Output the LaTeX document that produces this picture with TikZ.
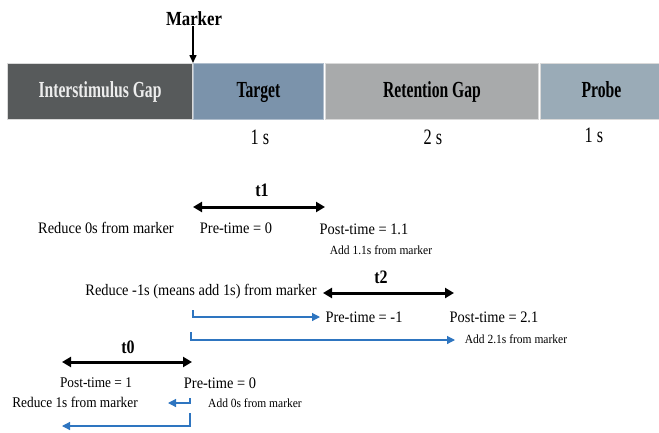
\documentclass[tikz,border=0pt]{standalone}
\usepackage{fontspec}
\setmainfont{Liberation Serif}
\newfontfamily\barfont[FakeStretch=0.68]{Liberation Serif}
\newfontfamily\durfont[FakeStretch=0.74]{Liberation Serif}
\newfontfamily\mkfont[FakeStretch=0.84]{Liberation Serif}
\newfontfamily\txtfont[FakeStretch=0.9]{Liberation Serif}
\newfontfamily\smfont[FakeStretch=0.92]{Liberation Serif}
\usetikzlibrary{arrows.meta}
\definecolor{isgc}{HTML}{575A5B}
\definecolor{tgtc}{HTML}{7B93AB}
\definecolor{retc}{HTML}{A8AAAB}
\definecolor{prbc}{HTML}{9AABB7}
\definecolor{bluec}{HTML}{2E75C0}
\tikzset{
  barbox/.style={draw=gray!30, line width=1pt, minimum height=56pt, anchor=north west, inner sep=0pt,
    text height=15pt, text depth=4pt,
    font=\barfont\bfseries\fontsize{23}{25}\selectfont},
  durlab/.style={inner sep=0pt, font=\durfont\fontsize{22}{24}\selectfont},
  lab/.style={inner sep=0pt, font=\txtfont\fontsize{16}{18}\selectfont},
  labsm/.style={inner sep=0pt, font=\txtfont\fontsize{14.8}{17}\selectfont},
  smalllab/.style={inner sep=0pt, font=\smfont\fontsize{12.5}{14}\selectfont},
  tlab/.style={inner sep=0pt, font=\mkfont\bfseries\fontsize{19}{21}\selectfont},
  spanarrow/.style={line width=3pt, {Triangle[length=9pt,width=10pt]}-{Triangle[length=9pt,width=10pt]}},
  bluearrow/.style={draw=bluec, line width=1.2pt, -{Triangle[length=8pt,width=8pt]}},
  markarrow/.style={line width=1.5pt, -{Triangle[length=8pt,width=7pt]}}
}
\begin{document}
\begin{tikzpicture}[x=1pt,y=-1pt]
\useasboundingbox (0,0) rectangle (659,432);
% bars
\node[barbox, fill=isgc, text=white!93!black, minimum width=185pt] (isg) at (7,63) {Interstimulus Gap};
\node[barbox, fill=tgtc, draw=tgtc!60!white, minimum width=130pt] (tgt) at (193,63) {Target};
\node[barbox, fill=retc, minimum width=213pt] (ret) at (325,63) {Retention Gap};
\node[barbox, fill=prbc, minimum width=122pt] (prb) at (540,63) {Probe};
% marker
\node[tlab, font=\mkfont\bfseries\fontsize{20}{22}\selectfont] (mk) at (194,19) {Marker};
\coordinate (mkend) at (193,63);
\draw[markarrow] (mk.south -| mkend) -- (mkend);
% durations
\node[durlab] (d1) at (260,137) {1 s};
\node[durlab] (d2) at (433,137) {2 s};
\node[durlab] (d3) at (594,135) {1 s};
% t1
\coordinate (t1a) at (193,207);
\coordinate (t1b) at (325,207);
\draw[spanarrow] (t1a) -- (t1b);
\node[tlab] (t1) at (262,190) {t1};
\node[lab] (red0) at (106,228) {Reduce 0s from marker};
\node[lab] (pre1) at (236,228) {Pre-time = 0};
\node[lab] (post1) at (364,229) {Post-time = 1.1};
\node[smalllab] (add1) at (381,250) {Add 1.1s from marker};
% t2
\coordinate (t2a) at (323,293);
\coordinate (t2b) at (454,293);
\draw[spanarrow] (t2a) -- (t2b);
\node[tlab] (t2) at (381,277) {t2};
\node[lab] (redm1) at (201,292) {Reduce -1s (means add 1s) from marker};
\node[lab] (pre2) at (364,317) {Pre-time = -1};
\node[lab] (post2) at (494,317) {Post-time = 2.1};
\node[smalllab] (add2) at (516,339) {Add 2.1s from marker};
\coordinate (b1s) at (193,310);
\coordinate (b1e) at (320,317);
\draw[bluearrow] (b1s) |- (b1e);
\coordinate (b2s) at (191,332);
\coordinate (b2e) at (455,340);
\draw[bluearrow] (b2s) |- (b2e);
% t0
\coordinate (t0a) at (62,362);
\coordinate (t0b) at (192,362);
\draw[spanarrow] (t0a) -- (t0b);
\node[tlab] (t0) at (128,347) {t0};
\node[labsm] (post0) at (96,383) {Post-time = 1};
\node[lab] (pre0) at (220,383) {Pre-time = 0};
\node[labsm] (red1) at (75,402) {Reduce 1s from marker};
\node[smalllab] (add0) at (255,403) {Add 0s from marker};
\coordinate (b3s) at (190,398);
\coordinate (b3e) at (168,403);
\draw[bluearrow] (b3s) |- (b3e);
\coordinate (b4s) at (190,413);
\coordinate (b4e) at (62,426);
\draw[bluearrow] (b4s) |- (b4e);
\end{tikzpicture}
\end{document}
